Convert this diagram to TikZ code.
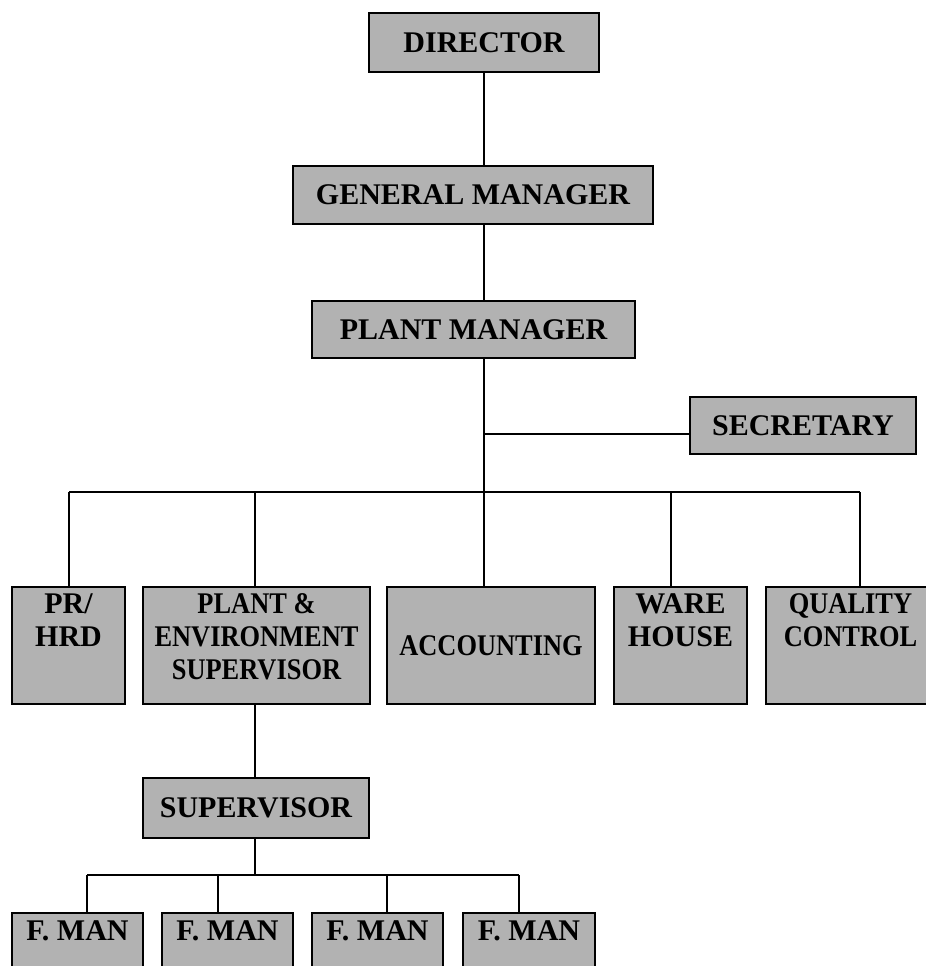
\documentclass[tikz,border=0pt]{standalone}
\usepackage{fontspec}
\setmainfont{Liberation Serif}
\newfontfamily\narrowserif[FakeStretch=0.88]{Liberation Serif}
\begin{document}
\begin{tikzpicture}[x=0.5pt,y=-0.5pt,
  lblfont/.style={font=\fontsize{15}{16.5}\selectfont\bfseries},
  narrowfont/.style={font=\narrowserif\fontsize{15}{16.5}\selectfont\bfseries},
  box/.style={draw=black, line width=0.8pt, fill=black!30, inner sep=0pt, lblfont, align=center},
  toplbl/.style={anchor=north, inner sep=0pt, lblfont, align=center},
  conn/.style={line width=0.8pt}]
\clip (0,0) rectangle (926,966);
% top chain
\node[box, minimum width=115pt, minimum height=29.5pt] (dir) at (484,42.5) {DIRECTOR};
\node[box, minimum width=180pt, minimum height=29pt] (gm) at (473,195) {GENERAL MANAGER};
\node[box, minimum width=161.5pt, minimum height=28.5pt] (pm) at (473.5,329.5) {PLANT MANAGER};
\node[box, minimum width=113pt, minimum height=28.5pt] (sec) at (803,425.5) {SECRETARY};
% department row
\node[box, minimum width=56.5pt, minimum height=58.5pt,
  label={[toplbl, yshift=-3.5pt]north:PR/\\HRD}] (prhrd) at (68.5,645.5) {};
\node[box, minimum width=113.5pt, minimum height=58.5pt,
  label={[toplbl, narrowfont, yshift=-3.5pt]north:PLANT \&\\ENVIRONMENT\\SUPERVISOR}] (pe) at (256.5,645.5) {};
\node[box, narrowfont, minimum width=104pt, minimum height=58.5pt] (acc) at (491,645.5) {ACCOUNTING};
\node[box, minimum width=66.5pt, minimum height=58.5pt,
  label={[toplbl, yshift=-3.5pt]north:WARE\\HOUSE}] (ware) at (680.5,645.5) {};
\node[box, minimum width=84.5pt, minimum height=58.5pt,
  label={[toplbl, narrowfont, yshift=-3.5pt]north:QUALITY\\CONTROL}] (qc) at (850.5,645.5) {};
% supervisor
\node[box, minimum width=113pt, minimum height=30pt] (sup) at (256,808) {SUPERVISOR};
% foremen
\node[box, minimum width=65.5pt, minimum height=43.5pt,
  label={[toplbl, yshift=-4pt]north:F. MAN}] (fm1) at (77.5,956.5) {};
\node[box, minimum width=65.5pt, minimum height=43.5pt,
  label={[toplbl, yshift=-4pt]north:F. MAN}] (fm2) at (227.5,956.5) {};
\node[box, minimum width=65.5pt, minimum height=43.5pt,
  label={[toplbl, yshift=-4pt]north:F. MAN}] (fm3) at (377.5,956.5) {};
\node[box, minimum width=66pt, minimum height=43.5pt,
  label={[toplbl, yshift=-4pt]north:F. MAN}] (fm4) at (529,956.5) {};
% bus coordinates
\coordinate (bus) at (484,492);
\coordinate (secj) at (484,434);
\coordinate (b1) at (69,492);
\coordinate (b2) at (255,492);
\coordinate (b4) at (671,492);
\coordinate (b5) at (860,492);
\coordinate (c0) at (255,875);
\coordinate (c1) at (87,875);
\coordinate (c2) at (218,875);
\coordinate (c3) at (387,875);
\coordinate (c4) at (519,875);
% connectors
\draw[conn] (dir.south) -- (dir.south |- gm.north);
\draw[conn] (dir.south |- gm.south) -- (dir.south |- pm.north);
\draw[conn] (dir.south |- pm.south) -- (bus);
\draw[conn] (secj) -- (secj -| sec.west);
\draw[conn] (b1) -- (b5);
\draw[conn] (b1) -- (b1 |- prhrd.north);
\draw[conn] (b2) -- (b2 |- pe.north);
\draw[conn] (bus) -- (bus |- acc.north);
\draw[conn] (b4) -- (b4 |- ware.north);
\draw[conn] (b5) -- (b5 |- qc.north);
\draw[conn] (b2 |- pe.south) -- (b2 |- sup.north);
\draw[conn] (b2 |- sup.south) -- (c0);
\draw[conn] (c1) -- (c4);
\draw[conn] (c1) -- (c1 |- fm1.north);
\draw[conn] (c2) -- (c2 |- fm2.north);
\draw[conn] (c3) -- (c3 |- fm3.north);
\draw[conn] (c4) -- (c4 |- fm4.north);
\end{tikzpicture}
\end{document}
